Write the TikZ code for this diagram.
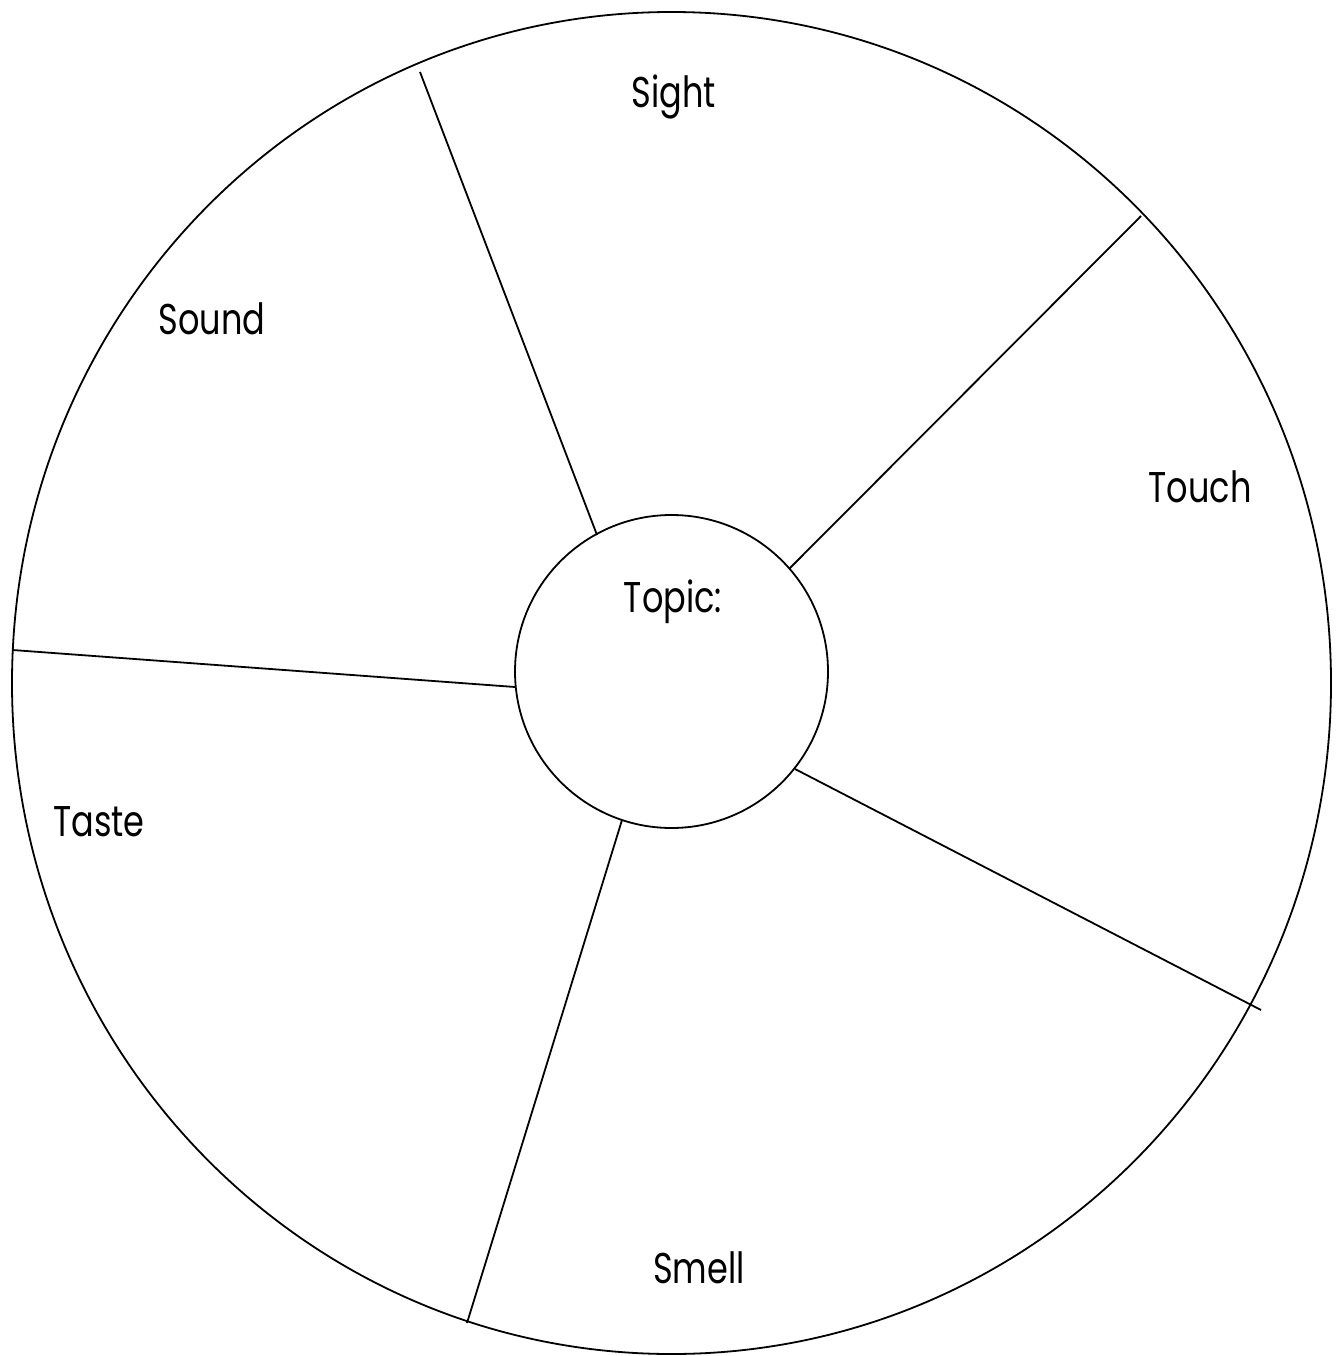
\documentclass[tikz,border=0pt]{standalone}
\usepackage{fontspec}
\setmainfont{Poppins}[FakeStretch=0.78]
\begin{document}
\begin{tikzpicture}[x=1pt,y=-1pt,
  ln/.style={line width=1.8pt,black},
  lbl/.style={anchor=base,inner sep=0pt,font=\fontsize{43}{50}\selectfont}]
\useasboundingbox (0,0) rectangle (1335,1356);
\draw[ln] (671.5,683) ellipse [x radius=659.5, y radius=671];
\node[ln,draw,circle,minimum size=313pt,inner sep=0pt] (topic) at (671.5,671.5) {};
\coordinate (a1) at (597,535);   \coordinate (b1) at (420,72);
\coordinate (a2) at (789,569);   \coordinate (b2) at (1141,216);
\coordinate (a3) at (795,769);   \coordinate (b3) at (1261,1010);
\coordinate (a4) at (622,820);   \coordinate (b4) at (467,1323);
\coordinate (a5) at (515,687);   \coordinate (b5) at (12.5,650);
\draw[ln] (a1) -- (b1);
\draw[ln] (a2) -- (b2);
\draw[ln] (a3) -- (b3);
\draw[ln] (a4) -- (b4);
\draw[ln] (a5) -- (b5);
\node[lbl] (sight) at (674,108) {Sight};
\node[lbl] (sound) at (212,334) {Sound};
\node[lbl] (touch) at (1200,502) {Touch};
\node[lbl] (taste) at (99,836) {Taste};
\node[lbl] (smell) at (699,1283) {Smell};
\node[lbl] (topiclbl) at (673,612) {Topic:};
\end{tikzpicture}
\end{document}
